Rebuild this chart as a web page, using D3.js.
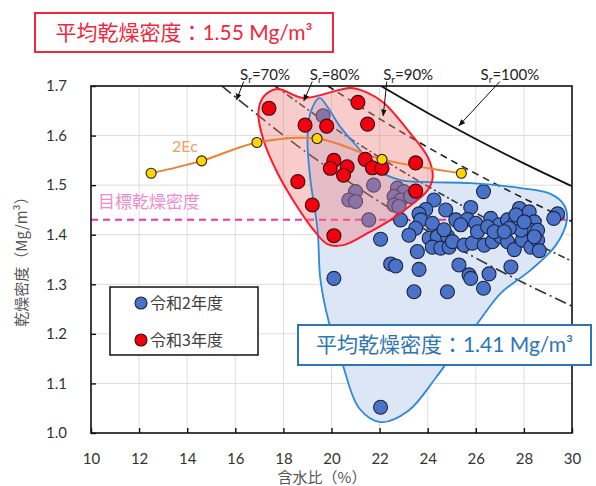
<!DOCTYPE html>
<html><head><meta charset="utf-8">
<script src="https://cdn.jsdelivr.net/npm/d3@7"></script>
<style>body{margin:0;background:#fff}svg{display:block}</style>
</head><body>
<svg id="c" width="596" height="486"></svg>
<script>
// ---------- data ----------
const xTicks = [10,12,14,16,18,20,22,24,26,28,30];
const yTicks = [1.0,1.1,1.2,1.3,1.4,1.5,1.6,1.7];

// 令和2年度 (water content %, dry density Mg/m3)
const r2W = [19.65,21.75,21.0,20.72,21.0,22.74,23.01,22.6,22.88,23.29,22.6,22.8,21.55,
  26.32,24.26,25.79,27.81,23.92,24.75,28.22,29.40,29.24,23.64,23.71,25.17,25.65,26.0,26.62,26.97,27.32,27.6,27.67,28.43,
  22.87,23.5,23.22,22.04,24.06,24.4,24.82,24.19,24.54,24.89,25.03,25.51,25.86,26.35,26.69,27.04,27.32,27.6,27.94,28.29,28.57,28.64,
  28.29,28.57,27.88,28.43,24.19,24.68,25.37,26.07,28.01,27.39,26.49,26.76,27.18,
  23.57,22.46,22.67,23.64,25.30,25.72,25.79,26.55,27.46,20.10,23.43,24.82,26.32,22.04];
const r2D = [1.640,1.500,1.487,1.470,1.467,1.494,1.487,1.477,1.470,1.477,1.460,1.457,1.430,
  1.487,1.470,1.455,1.453,1.451,1.450,1.446,1.442,1.433,1.442,1.430,1.430,1.431,1.423,1.433,1.420,1.430,1.423,1.440,1.426,
  1.430,1.413,1.399,1.391,1.393,1.396,1.397,1.375,1.373,1.375,1.386,1.379,1.383,1.379,1.386,1.396,1.386,1.370,1.389,1.375,1.389,1.368,
  1.409,1.409,1.409,1.396,1.423,1.410,1.420,1.406,1.426,1.413,1.416,1.406,1.406,
  1.366,1.341,1.337,1.330,1.339,1.319,1.312,1.321,1.335,1.312,1.285,1.285,1.292,1.052];

// 令和3年度
const r3W = [17.4,21.1,18.9,19.8,21.5,20.1,19.95,20.65,20.5,21.4,21.7,22.1,23.5,18.6,19.2,23.5,20.1];
const r3D = [1.655,1.667,1.621,1.619,1.623,1.550,1.534,1.537,1.520,1.552,1.535,1.534,1.545,1.507,1.460,1.488,1.398];

// 2Ec compaction curve
const ecW = [12.5,14.6,16.9,19.4,22.1,25.4];
const ecD = [1.524,1.549,1.586,1.594,1.552,1.524];

// target dry density
const targetD = 1.43;

// saturation lines
const srLabels = ["70","80","90","100"];
const sr70W = [15.44,18,20,22,24,26,28,30];
const sr70D = [1.70,1.6005,1.5305,1.4664,1.4074,1.3530,1.3027,1.2559];
const sr80W = [17.65,20,22,24,26,28,30];
const sr80D = [1.70,1.6190,1.5561,1.4978,1.4437,1.3934,1.3465];
const sr90W = [19.85,22,24,26,28,30];
const sr90D = [1.70,1.6338,1.5765,1.5232,1.4733,1.4266];
const sr100W = [22.06,24,26,28,30];
const sr100D = [1.70,1.6457,1.5932,1.5440,1.4978];

// hand-drawn outlines
const hullR2W = [19.5,19.83,20.375,21.08,21.92,22.875,24.125,25.79,27.875,29.125,29.67,29.79,29.33,28.29,27.04,26.08,25.17,24.33,23.2,22.04,21.15,20.45,19.9,19.54,19.42,19.125,19.0,19.125];
const hullR2D = [1.676,1.658,1.617,1.577,1.531,1.510,1.506,1.504,1.494,1.482,1.460,1.430,1.379,1.329,1.282,1.222,1.167,1.111,1.045,1.022,1.050,1.140,1.222,1.309,1.410,1.510,1.591,1.646];
const hullR3W = [17.17,17.75,18.83,20.79,21.42,22.17,23.17,24.0,24.21,24.0,23.42,22.46,21.5,20.5,19.83,19.25,18.58,17.75,17.17,16.96];
const hullR3D = [1.678,1.694,1.676,1.696,1.688,1.666,1.611,1.557,1.516,1.490,1.464,1.430,1.403,1.379,1.381,1.410,1.456,1.525,1.591,1.646];

const avgR3 = "1.55", avgR2 = "1.41";

// ---------- chart ----------
const svg = d3.select("#c");
const L=91,R=572,T=86,B=433;
const x = d3.scaleLinear().domain([10,30]).range([L,R]);
const y = d3.scaleLinear().domain([1.0,1.7]).range([B,T]);
const latin = "Lato, 'Noto Sans CJK JP', sans-serif";
const jp = "'Noto Sans CJK JP', sans-serif";
const zip = (a,b)=>a.map((v,i)=>[v,b[i]]);

const defs = svg.append("defs");
defs.append("clipPath").attr("id","clip")
  .append("rect").attr("x",L).attr("y",T).attr("width",R-L).attr("height",B-T);
defs.append("marker").attr("id","arr").attr("viewBox","0 0 10 10").attr("refX",9).attr("refY",5)
  .attr("markerWidth",7).attr("markerHeight",7).attr("orient","auto")
  .append("path").attr("d","M0,1 L10,5 L0,9 z").attr("fill","#111");

// grid
const g = svg.append("g");
g.selectAll(".gx").data(xTicks.slice(1,-1)).join("line")
  .attr("x1",d=>x(d)).attr("x2",d=>x(d)).attr("y1",T).attr("y2",B)
  .attr("stroke","#dcdcdc").attr("stroke-width",1);
g.selectAll(".gy").data(yTicks.slice(1,-1)).join("line")
  .attr("x1",L).attr("x2",R).attr("y1",d=>y(d)).attr("y2",d=>y(d))
  .attr("stroke","#dcdcdc").attr("stroke-width",1);

const plot = svg.append("g").attr("clip-path","url(#clip)");
const closed = d3.line().x(d=>x(d[0])).y(d=>y(d[1])).curve(d3.curveCatmullRomClosed.alpha(0.5));
const hull2 = zip(hullR2W,hullR2D), hull3 = zip(hullR3W,hullR3D);

// blue hull fill
plot.append("path").attr("d",closed(hull2)).attr("fill","#dce6f4");

// saturation lines
const srData = [zip(sr70W,sr70D),zip(sr80W,sr80D),zip(sr90W,sr90D),zip(sr100W,sr100D)];
const srDash = ["12,4,2,4","7,3,2,3","7,5",null];
const srColor = ["#333","#333","#222","#111"];
const open = d3.line().x(d=>x(d[0])).y(d=>y(d[1])).curve(d3.curveCatmullRom);
srData.forEach((s,i)=>{
  plot.append("path").attr("d",open(s)).attr("fill","none")
    .attr("stroke",srColor[i]).attr("stroke-width",i===3?1.8:1.6)
    .attr("stroke-dasharray",srDash[i]);
});

// target line
plot.append("line").attr("x1",L).attr("x2",R).attr("y1",y(targetD)).attr("y2",y(targetD))
  .attr("stroke","#ff2fa0").attr("stroke-width",2).attr("stroke-dasharray","7,5");

// blue points
plot.selectAll(".p2").data(zip(r2W,r2D)).join("circle")
  .attr("cx",d=>x(d[0])).attr("cy",d=>y(d[1])).attr("r",7)
  .attr("fill","#4a72c8").attr("stroke","#1c2540").attr("stroke-width",1.1);

// red hull fill (translucent)
plot.append("path").attr("d",closed(hull3)).attr("fill","#f07a7a").attr("fill-opacity",0.38);
// outlines
plot.append("path").attr("d",closed(hull2)).attr("fill","none").attr("stroke","#2f8ad6").attr("stroke-width",1.8);
plot.append("path").attr("d",closed(hull3)).attr("fill","none").attr("stroke","#ff1a2a").attr("stroke-width",2);

// 2Ec line
plot.append("path").attr("d",open(zip(ecW,ecD))).attr("fill","none").attr("stroke","#f08030").attr("stroke-width",2);

// red points
plot.selectAll(".p3").data(zip(r3W,r3D)).join("circle")
  .attr("cx",d=>x(d[0])).attr("cy",d=>y(d[1])).attr("r",7)
  .attr("fill","#f20010").attr("stroke","#3a0a0a").attr("stroke-width",1.1);

// 2Ec points
plot.selectAll(".pe").data(zip(ecW,ecD)).join("circle")
  .attr("cx",d=>x(d[0])).attr("cy",d=>y(d[1])).attr("r",5)
  .attr("fill","#ffd400").attr("stroke","#222").attr("stroke-width",1.1);

// frame & axes
svg.append("rect").attr("x",L).attr("y",T).attr("width",R-L).attr("height",B-T)
  .attr("fill","none").attr("stroke","#111").attr("stroke-width",1.6);
const ax = svg.append("g").attr("transform",`translate(0,${B})`)
  .call(d3.axisBottom(x).tickValues(xTicks).tickSizeInner(-5).tickSizeOuter(0).tickPadding(20).tickFormat(d3.format("d")));
const ay = svg.append("g").attr("transform",`translate(${L},0)`)
  .call(d3.axisLeft(y).tickValues(yTicks).tickSizeInner(-5).tickSizeOuter(0).tickPadding(24).tickFormat(d3.format(".1f")));
[ax,ay].forEach(a=>{
  a.select(".domain").remove();
  a.selectAll(".tick line").attr("stroke","#111").attr("stroke-width",1.4);
  a.selectAll(".tick text").attr("font-family",latin).attr("font-size",15).attr("fill","#333");
});

// axis titles
svg.append("text").attr("x",322).attr("y",483).attr("text-anchor","middle")
  .attr("font-family",jp).attr("font-size",15).attr("fill","#555").text("含水比（%）");
svg.append("text").attr("transform","translate(27,258) rotate(-90)").attr("text-anchor","middle")
  .attr("font-family",jp).attr("font-size",15).attr("fill","#555").text("乾燥密度（Mg/m³）");

// Sr labels and arrows
const srLabX = [16.2,19.1,22.15,26.2];
const srArrFrom = [[16.35,1.709],[19.2,1.709],[22.3,1.709],[27.0,1.709]];
const srArrTo = [[16.05,1.672],[18.85,1.670],[22.15,1.640],[25.3,1.620]];
srLabels.forEach((s,i)=>{
  const t = svg.append("text").attr("x",x(srLabX[i])).attr("y",y(1.7)-6)
    .attr("font-family",latin).attr("font-size",15).attr("fill","#222");
  t.append("tspan").text("S");
  t.append("tspan").attr("font-size",10).attr("dy",3).text("r");
  t.append("tspan").attr("dy",-3).text("="+s+"%");
  svg.append("line").attr("x1",x(srArrFrom[i][0])).attr("y1",y(srArrFrom[i][1]))
    .attr("x2",x(srArrTo[i][0])).attr("y2",y(srArrTo[i][1]))
    .attr("stroke","#111").attr("stroke-width",1).attr("marker-end","url(#arr)");
});

// 2Ec & target labels
svg.append("text").attr("x",172).attr("y",152).attr("font-family",latin).attr("font-size",16)
  .attr("fill","#f5a060").text("2Ec");
svg.append("text").attr("x",98).attr("y",208).attr("font-family",jp).attr("font-size",17)
  .attr("fill","#f08ccc").text("目標乾燥密度");

// legend
const lg = svg.append("g");
lg.append("rect").attr("x",110).attr("y",287).attr("width",148).attr("height",68)
  .attr("fill","#fff").attr("stroke","#111").attr("stroke-width",1.5);
const legItems = [["令和2年度","#4a72c8","#1c2540"],["令和3年度","#f20010","#3a0a0a"]];
legItems.forEach((it,i)=>{
  lg.append("circle").attr("cx",141).attr("cy",303+i*37).attr("r",6)
    .attr("fill",it[1]).attr("stroke",it[2]).attr("stroke-width",1.1);
  lg.append("text").attr("x",150).attr("y",309+i*37).attr("font-family",jp).attr("font-size",16)
    .attr("fill","#404040").text(it[0]);
});

// average boxes
function box(x0,y0,w,h,col,txt,tcol){
  svg.append("rect").attr("x",x0).attr("y",y0).attr("width",w).attr("height",h)
    .attr("fill","#fff").attr("stroke",col).attr("stroke-width",2);
  const t = svg.append("text").attr("x",x0+w/2).attr("y",y0+h/2+7).attr("text-anchor","middle")
    .attr("font-family",latin).attr("font-size",21).attr("fill",tcol);
  t.append("tspan").attr("font-family",jp).text("平均乾燥密度：");
  t.append("tspan").text(txt+" Mg/m³");
}
box(35,13,298,39,"#f0283c",avgR3,"#f0283c");
box(298,325,293,40,"#2e75b6",avgR2,"#2e75b6");
</script>
</body></html>
